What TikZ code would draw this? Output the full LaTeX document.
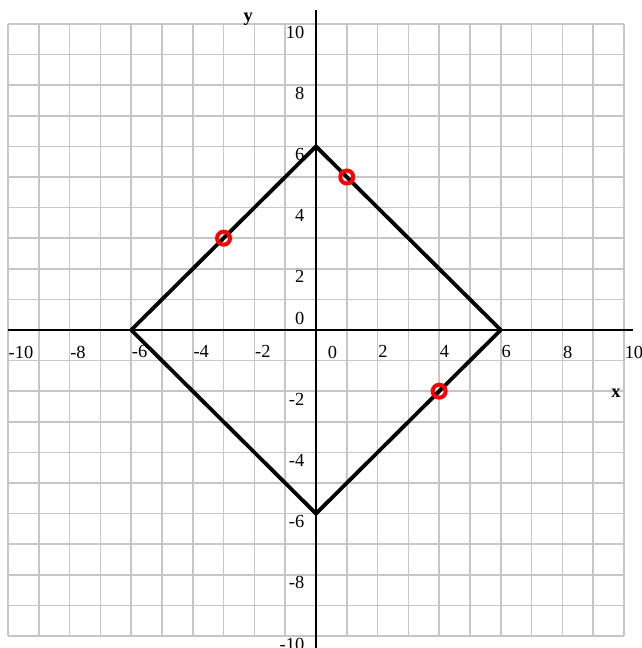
\documentclass[tikz,border=0pt]{standalone}
\usepackage{fontspec}
\setmainfont{Liberation Serif}
\definecolor{gridgray}{HTML}{C6C6C6}
\definecolor{ptred}{HTML}{FF0000}
\tikzset{pl/.style={x=30.8bp,y=30.6bp,line width=1.5bp,font=\fontsize{18.5}{22}\selectfont},
  numlbl/.style={inner sep=0pt},
  axislbl/.style={inner sep=0pt,font=\fontsize{18.5}{22}\selectfont\bfseries,anchor=base},
  pt/.style={circle,draw=ptred,line width=4bp,minimum size=13bp,inner sep=0pt}}

\begin{document}
\begin{tikzpicture}[pl]
  \useasboundingbox (-316bp,-318bp) rectangle (326bp,330bp);
  % grid
  \foreach \k in {-10,...,10}{
    \draw[gridgray] (\k,-10)--(\k,10);
    \draw[gridgray] (-10,\k)--(10,\k);}
  % axes
  \coordinate (xl) at (-10,0); \coordinate (xr) at (10.3,0);
  \coordinate (yb) at (0,-10.39); \coordinate (yt) at (0,10.46);
  \draw[line width=2bp] (xl)--(xr);
  \draw[line width=2bp] (yb)--(yt);
  % tick labels
  \foreach \x [count=\i] in {-10,-8,-6,-4,-2,2,4,6,8,10}{\node[numlbl,anchor=north west,yshift=-15bp] (lx\i) at (\x,0){\x};}
  \node[numlbl,anchor=north west,xshift=11bp,yshift=-15bp] (lx0) at (0,0){0};
  \foreach \y [count=\i] in {-10,-8,-6,-4,-2,2,4,6,8,10}{\node[numlbl,anchor=north east,xshift=-11bp,yshift=-1bp] (ly\i) at (0,\y){\y};}
  \node[numlbl,anchor=south east,xshift=-11bp,yshift=5bp] (ly0) at (0,0){0};
  \node[axislbl] (xname) at (9.74,-2.22){x};
  \node[axislbl] (yname) at (-2.2,10.07){y};
  % square |x|+|y|=6
  \coordinate (e) at (6,0); \coordinate (n) at (0,6);
  \coordinate (w) at (-6,0); \coordinate (s) at (0,-6);
  \draw[line width=3.8bp] (e)--(n)--(w)--(s)--cycle;
  % points
  \node[pt] (p1) at (1,5){};
  \node[pt] (p2) at (-3,3){};
  \node[pt] (p3) at (4,-2){};
\end{tikzpicture}
\end{document}
